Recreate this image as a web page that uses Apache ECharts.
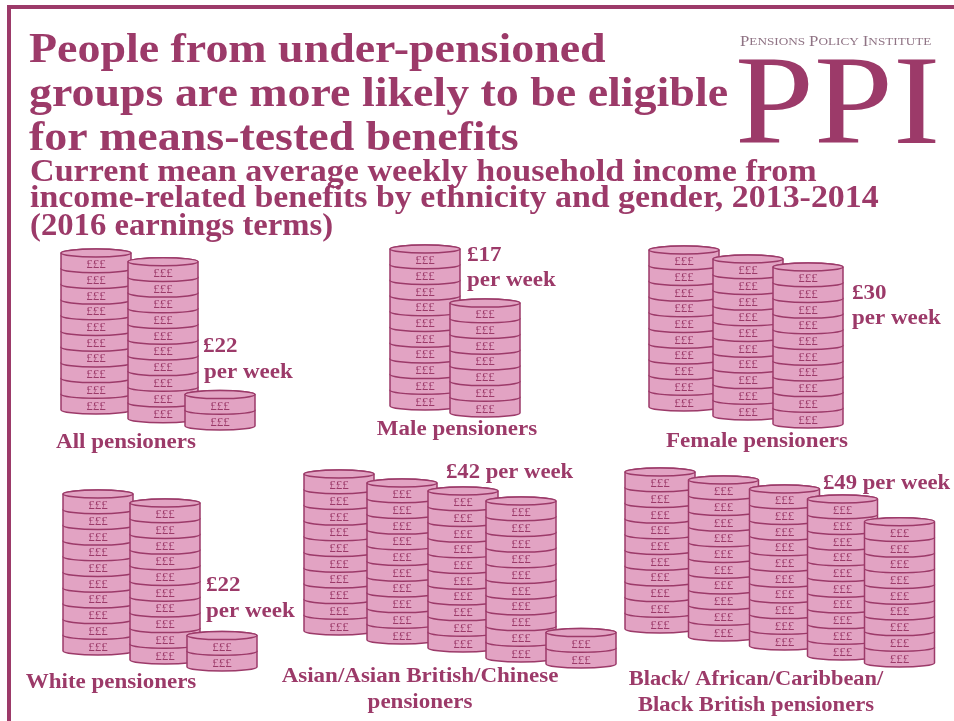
<!DOCTYPE html>
<html><head><meta charset="utf-8">
<style>html,body{margin:0;padding:0;background:#fff}#c{width:954px;height:721px}</style>
<script src="https://cdn.jsdelivr.net/npm/echarts@6/dist/echarts.min.js"></script>
</head><body><div id="c"></div>
<script>
// ---- data: each coin is £1 per week ----
const panelNames = ['All pensioners','Male pensioners','Female pensioners','White pensioners','Asian/Asian British/Chinese\npensioners','Black/ African/Caribbean/\nBlack British pensioners'];
const weeklyAmounts = [22,17,30,22,42,49];
const allCoins = [10,10,2];
const maleCoins = [10,7];
const femaleCoins = [10,10,10];
const whiteCoins = [10,10,2];
const asianCoins = [10,10,10,10,2];
const blackCoins = [10,10,10,10,9];
const coinSets = [allCoins,maleCoins,femaleCoins,whiteCoins,asianCoins,blackCoins];
const titleLines = ['People from under-pensioned','groups are more likely to be eligible','for means-tested benefits'];
const subtitleLines = ['Current mean average weekly household income from','income-related benefits by ethnicity and gender, 2013-2014','(2016 earnings terms)'];

// ---- layout and style ----
const INK='#9c3a69', FILL='#e2a3c3', SERIF='"Liberation Serif","DejaVu Serif",serif';
const BAND=64, UNIT=15.7, RY=4, COINW=70, AXISMAX=12;
const layouts = [
 {left:64, base:410, nx:[0,3,-4], ny:[0,8.7,16]},
 {left:393,base:406, nx:[0,-4], ny:[0,7]},
 {left:652,base:407, nx:[0,0,-4], ny:[0,9,17]},
 {left:66, base:651, nx:[0,3,-4], ny:[0,9,16]},
 {left:307,base:631, nx:[0,-1,-4,-10,-14], ny:[0,9,17,27,33]},
 {left:628,base:629, nx:[0,-.5,-3.5,-9.5,-16.5], ny:[0,8,17,27,34]}
];
const textRuns = [
 {t:'All pensioners',x:126,y:443,c:1},
 {t:'£22',x:203,y:347},{t:'per week',x:204,y:373},
 {t:'Male pensioners',x:457,y:430,c:1},
 {t:'£17',x:467,y:256},{t:'per week',x:467,y:281},
 {t:'Female pensioners',x:757,y:442,c:1},
 {t:'£30',x:852,y:294},{t:'per week',x:852,y:319},
 {t:'White pensioners',x:111,y:683,c:1},
 {t:'£22',x:206,y:586},{t:'per week',x:206,y:612},
 {t:'Asian/Asian British/Chinese',x:420,y:677,c:1},{t:'pensioners',x:420,y:703,c:1},
 {t:'£42 per week',x:446,y:473,sx:1.134},
 {t:'Black/ African/Caribbean/',x:756,y:680,c:1,sx:1.12},{t:'Black British pensioners',x:756,y:706,c:1,sx:1.13},
 {t:'£49 per week',x:823,y:484,sx:1.134}
];

function text(t,x,y,size,opt){opt=opt||{};return {type:'text',x:x,y:y,scaleX:opt.sx||1,scaleY:opt.sy||1,silent:true,
  style:{text:t,x:0,y:0,fill:opt.fill||INK,font:(opt.w||'bold')+' '+size+'px '+SERIF,align:opt.align||'left',verticalAlign:'middle'}};}

function renderCoins(layout){return function(params,api){
  const i=api.value(0), n=api.value(1);
  const p0=api.coord([i,0]), h=api.size([0,1])[1];
  const cx=p0[0]+layout.nx[i], base=p0[1]+layout.ny[i];
  const rx=COINW/2, kids=[];
  for(let k=0;k<n;k++){
    const bottom=base-k*h, top=bottom-h;
    const d='M0 '+RY+' L0 '+(RY+h)+' A'+rx+' '+RY+' 0 0 0 '+COINW+' '+(RY+h)+' L'+COINW+' '+RY+' A'+rx+' '+RY+' 0 0 0 0 '+RY+' Z';
    kids.push({type:'path',shape:{pathData:d,x:cx-rx,y:top-RY,width:COINW,height:h+2*RY,layout:'cover'},
      style:{fill:FILL,stroke:INK,lineWidth:1.5}});
    kids.push({type:'text',style:{text:'£££',x:cx,y:top+RY+h/2,align:'center',verticalAlign:'middle',fill:INK,font:'13px '+SERIF}});
  }
  const topY=base-n*h;
  kids.push({type:'ellipse',shape:{cx:cx,cy:topY,rx:rx,ry:RY},style:{fill:FILL,stroke:INK,lineWidth:1.5}});
  return {type:'group',children:kids};
};}

const grids=[],xAxes=[],yAxes=[],series=[];
coinSets.forEach((coins,p)=>{
  const L=layouts[p];
  grids.push({left:L.left,top:L.base-AXISMAX*UNIT,width:BAND*coins.length,height:AXISMAX*UNIT});
  xAxes.push({type:'category',gridIndex:p,data:coins.map((c,i)=>i),show:false});
  yAxes.push({type:'value',gridIndex:p,min:0,max:AXISMAX,show:false});
  series.push({type:'custom',name:panelNames[p],xAxisIndex:p,yAxisIndex:p,clip:false,silent:true,
    renderItem:renderCoins(L),encode:{x:0,y:1},data:coins.map((c,i)=>[i,c])});
});

const g=[];
g.push({type:'rect',shape:{x:7,y:5,width:947,height:4},style:{fill:INK},silent:true});
g.push({type:'rect',shape:{x:7,y:5,width:4,height:716},style:{fill:INK},silent:true});
const tY=[51,95,139], sY=[173,199,227], sSx=[1.10,1.094,1.054];
titleLines.forEach((t,i)=>g.push(text(t,29,tY[i],43,{sx:1.068})));
subtitleLines.forEach((t,i)=>g.push(text(t,30,sY[i],31,{sx:sSx[i]})));
g.push(text('PPI',735,110,142,{w:'normal',sy:0.895}));
g.push({type:'text',x:740,y:42,scaleX:1.2,silent:true,style:{text:'{a|P}{b|ENSIONS} {a|P}{b|OLICY} {a|I}{b|NSTITUTE}',x:0,y:0,verticalAlign:'middle',
  rich:{a:{font:'14px '+SERIF,fill:'#8f7384'},b:{font:'11px '+SERIF,fill:'#8f7384'}}}});
textRuns.forEach(r=>g.push(text(r.t,r.x,r.y,20,{align:r.c?'center':'left',sx:r.sx||1.15})));

const chart=echarts.init(document.getElementById('c'),null,{renderer:'canvas'});
chart.setOption({animation:false,backgroundColor:'#fff',grid:grids,xAxis:xAxes,yAxis:yAxes,series:series,graphic:{elements:g}});
</script></body></html>
